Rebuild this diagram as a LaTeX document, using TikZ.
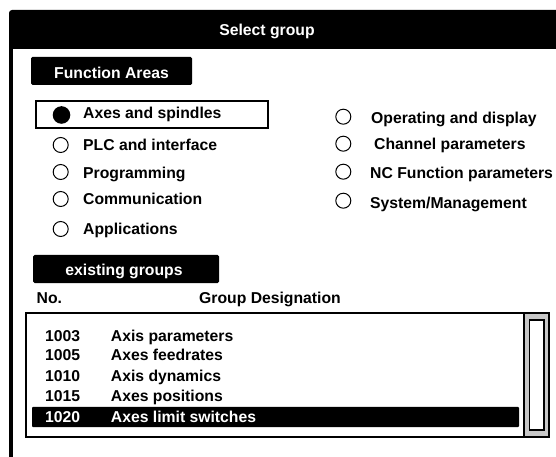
\documentclass[tikz,border=0pt]{standalone}
\usepackage{fontspec}
\setmainfont{Liberation Sans}
\begin{document}
\begin{tikzpicture}[x=1bp,y=-1bp,
  txt/.style={anchor=base west, inner sep=0pt, font=\bfseries\fontsize{15.8}{18}\selectfont},
  ctxt/.style={txt, anchor=base},
  inv/.style={text=white},
  radio/.style={draw=black, line width=1bp, fill=white},
  tab/.style={fill=black, rounded corners=1.5bp},
  frame/.style={draw=black, line width=2bp}]
\useasboundingbox (0,0) rectangle (556,457);

% window: title bar and left border
\fill[black, rounded corners=3bp] (9,10) rectangle (560,49);
\fill[black] (9,40) rectangle (13,460);
\node[ctxt, inv] (title) at (267,36) {Select group};

% function areas
\fill[tab] (31,57) rectangle (192,85);
\node[ctxt, inv] (fa) at (111.5,79) {Function Areas};

\draw[frame] (36,101) rectangle (268,128);
\fill[black] (61.5,115) circle[radius=8.8];
\node[txt] (axes) at (83,119) {Axes and spindles};

\draw[radio] (60.7,145) circle[radius=7.5];
\node[txt] (plc) at (83,151) {PLC and interface};
\draw[radio] (60.7,172) circle[radius=7.5];
\node[txt] (prog) at (83,178.3) {Programming};
\draw[radio] (60.7,199) circle[radius=7.5];
\node[txt] (comm) at (83,205) {Communication};
\draw[radio] (60.7,229) circle[radius=7.5];
\node[txt] (appl) at (83,235) {Applications};

\draw[radio] (343.3,116.7) circle[radius=7.5];
\node[txt] (oper) at (371,123.3) {Operating and display};
\draw[radio] (343.3,143.7) circle[radius=7.5];
\node[txt] (chan) at (374,150) {Channel parameters};
\draw[radio] (343.3,171.7) circle[radius=7.5];
\node[txt] (ncf) at (370,178.3) {NC Function parameters};
\draw[radio] (343.3,200.7) circle[radius=7.5];
\node[txt] (sysm) at (370,208.3) {System/Management};

% existing groups
\fill[tab] (33,255) rectangle (219,283);
\node[ctxt, inv] (eg) at (124,276) {existing groups};
\node[txt] (no) at (36.5,303.3) {No.};
\node[ctxt] (gd) at (270,303.3) {Group Designation};

% list box with scroll bar
\draw[black, line width=1.6bp] (26,313) rectangle (549,437);
\fill[black!22] (524.8,313.8) rectangle (548.2,436.2);
\draw[black, line width=1.6bp] (524,313) -- (524,437);
\draw[black, line width=1.6bp, fill=white] (529.5,320) rectangle (544,430);

\fill[black, rounded corners=1bp] (32,406.8) rectangle (519,427);

\node[txt] (n1) at (45,341.7) {1003};
\node[txt] (d1) at (110.7,341.7) {Axis parameters};
\node[txt] (n2) at (45,360.7) {1005};
\node[txt] (d2) at (110.7,360.7) {Axes feedrates};
\node[txt] (n3) at (45,381.7) {1010};
\node[txt] (d3) at (110.7,381.7) {Axis dynamics};
\node[txt] (n4) at (45,401.7) {1015};
\node[txt] (d4) at (110.7,401.7) {Axes positions};
\node[txt, inv] (n5) at (45,422.7) {1020};
\node[txt, inv] (d5) at (110.7,422.7) {Axes limit switches};
\end{tikzpicture}
\end{document}
